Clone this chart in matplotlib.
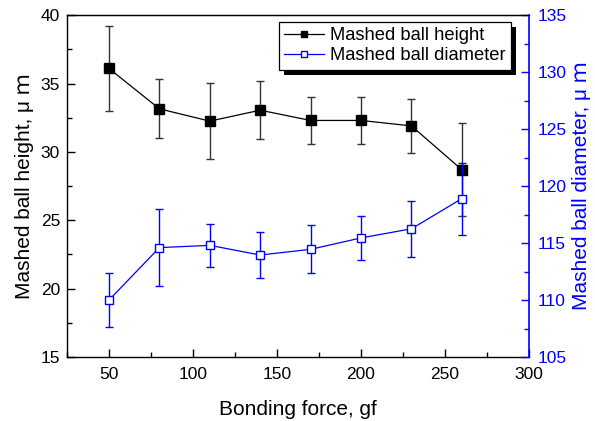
import matplotlib
matplotlib.use("Agg")
import matplotlib.pyplot as plt
from matplotlib.ticker import MultipleLocator
from matplotlib.lines import Line2D
from matplotlib.patches import Rectangle

plt.rcParams['font.family'] = ['Liberation Sans', 'Noto Sans CJK SC', 'DejaVu Sans']

force = [50, 80, 110, 140, 170, 200, 230, 260]
height = [36.1, 33.15, 32.25, 33.05, 32.3, 32.3, 31.9, 28.7]
height_err = [3.1, 2.15, 2.8, 2.1, 1.75, 1.75, 1.95, 3.4]
diameter = [110.0, 114.6, 114.8, 113.95, 114.45, 115.45, 116.25, 118.9]
diameter_err = [2.4, 3.35, 1.9, 2.05, 2.1, 1.9, 2.45, 3.15]
labels = ['Mashed ball height', 'Mashed ball diameter']

fig = plt.figure(figsize=(5.95, 4.21), dpi=100)
ax = fig.add_axes([0.1126, 0.152, 0.7765, 0.812])
ax2 = ax.twinx()

ax.errorbar(force, height, yerr=height_err, color='black', ecolor='#333333',
            elinewidth=1.0, capsize=3, capthick=1.0, lw=0.9,
            marker='s', markersize=7, markerfacecolor='black',
            markeredgecolor='black')
ax2.errorbar(force, diameter, yerr=diameter_err, color='blue', ecolor='blue',
             elinewidth=1.0, capsize=3, capthick=1.0, lw=0.9,
             marker='s', markersize=5.5, markerfacecolor='white',
             markeredgecolor='blue', markeredgewidth=1.0)

ax.set_xlim(25, 300)
ax.set_ylim(15, 40)
ax2.set_ylim(105, 135)

ax.xaxis.set_major_locator(MultipleLocator(50))
ax.xaxis.set_minor_locator(MultipleLocator(25))
ax.yaxis.set_major_locator(MultipleLocator(5))
ax.yaxis.set_minor_locator(MultipleLocator(2.5))
ax2.yaxis.set_major_locator(MultipleLocator(5))
ax2.yaxis.set_minor_locator(MultipleLocator(2.5))

ax.tick_params(axis='both', which='major', direction='in', length=5.5, width=1.0,
               labelsize=12.5, pad=7)
ax.tick_params(axis='y', which='major', pad=5)
ax.tick_params(axis='both', which='minor', direction='in', length=3.5, width=1.0)
ax.tick_params(axis='x', which='both', top=False)
ax.tick_params(axis='y', which='both', right=False)
ax2.tick_params(axis='y', which='major', direction='in', length=5.5, width=1.0,
                labelsize=12.5, colors='blue', pad=6)
ax2.tick_params(axis='y', which='minor', direction='in', length=3.5, width=1.0,
                colors='blue')

for s in ['left', 'bottom', 'top']:
    ax.spines[s].set_linewidth(1.0)
ax2.spines['right'].set_color('blue')
ax2.spines['right'].set_linewidth(1.2)
ax2.spines['left'].set_visible(False)
ax2.spines['bottom'].set_visible(False)
ax.spines['right'].set_visible(False)

ax.set_xlabel('Bonding force, gf', fontsize=15, labelpad=13)
ax.set_ylabel('Mashed ball height, μ ｍ', fontsize=15, labelpad=5)
ax2.set_ylabel('Mashed ball diameter, μ ｍ', fontsize=15, color='blue', labelpad=4)

handles = [Line2D([], [], color='black', lw=0.9, marker='s', markersize=5,
                  markerfacecolor='black', markeredgecolor='black'),
           Line2D([], [], color='blue', lw=0.9, marker='s', markersize=4.5,
                  markerfacecolor='white', markeredgecolor='blue')]
leg = ax2.legend(handles, labels,
                 loc='upper right', bbox_to_anchor=(0.961, 0.98), borderaxespad=0,
                 fontsize=13.2, frameon=True, fancybox=False, edgecolor='black',
                 framealpha=1.0, handlelength=2.2, handletextpad=0.3,
                 borderpad=0.3, labelspacing=0.15)
leg.get_frame().set_linewidth(0.9)
leg.set_zorder(20)

fig.canvas.draw()
bb = leg.get_frame().get_window_extent(fig.canvas.get_renderer())
bb = bb.transformed(ax2.transAxes.inverted())
ox = 5 / (fig.dpi * 5.95 * 0.7765)
oy = 5 / (fig.dpi * 4.21 * 0.812)
shadow = Rectangle((bb.x0 + ox, bb.y0 - oy), bb.width, bb.height,
                   transform=ax2.transAxes, facecolor='black', edgecolor='black',
                   linewidth=0, clip_on=False, zorder=19)
ax2.add_patch(shadow)

fig.savefig('out.png', dpi=100)
